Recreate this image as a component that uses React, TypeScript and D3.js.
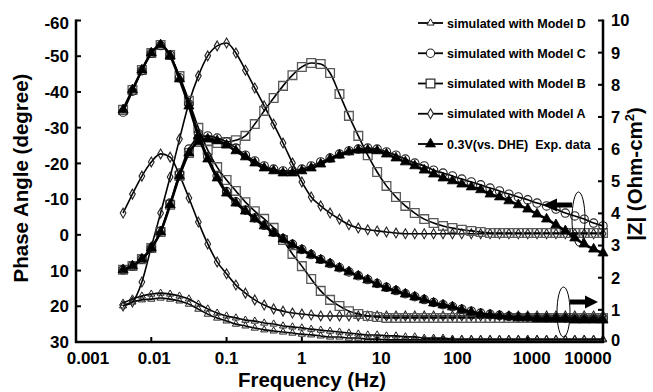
import React from 'react';
import * as d3 from 'd3';

// ---------- data ----------
const FREQ = [0.00422, 0.00562, 0.0075, 0.01, 0.0133, 0.0178, 0.0237, 0.0316, 0.0422, 0.0562, 0.075,
  0.1, 0.133, 0.178, 0.237, 0.316, 0.422, 0.562, 0.75,
  1, 1.33, 1.78, 2.37, 3.16, 4.22, 5.62, 7.5,
  10, 13.3, 17.8, 23.7, 31.6, 42.2, 56.2, 75,
  100, 133, 178, 237, 316, 422, 562, 750,
  1000, 1330, 1780, 2370, 3160, 4220, 5620, 7500, 10000];

// Experimental data, 0.3 V vs DHE
const EXP_PHASE = [9.8, 8.7, 6.8, 3.7, -0.8, -8.4, -16.5, -22.9, -26.0, -26.8,
  -26.3, -25.1, -23.5, -21.8, -20.1, -18.7, -17.9, -17.3, -17.3, -17.9,
  -18.7, -19.8, -21.2, -22.3, -23.2, -23.7, -23.7, -23.5, -22.6, -21.5,
  -20.4, -19.3, -18.1, -17.0, -15.9, -15.1, -14.2, -13.4, -12.6, -11.4,
  -10.6, -9.5, -8.4, -7.2, -5.8, -4.4, -2.8, -1.1, 0.9, 2.6, 4.0, 5.1];
const EXP_Z = [7.22, 7.84, 8.46, 8.99, 9.24, 8.90, 8.18, 7.34, 6.41, 5.69,
  5.10, 4.63, 4.32, 4.07, 3.83, 3.61, 3.39, 3.20, 3.02, 2.86,
  2.71, 2.55, 2.43, 2.30, 2.18, 2.05, 1.93, 1.80, 1.68, 1.59,
  1.49, 1.40, 1.31, 1.21, 1.15, 1.09, 1.00, 0.93, 0.87, 0.84,
  0.81, 0.78, 0.75, 0.75, 0.72, 0.72, 0.72, 0.72, 0.68, 0.68, 0.68, 0.68];

// Model C
const C_PHASE = [9.8, 8.7, 6.8, 3.7, -1.1, -8.9, -17.3, -24.0, -27.1, -27.7,
  -27.1, -26.0, -24.3, -22.3, -20.7, -19.3, -18.4, -17.9, -17.9, -18.4,
  -19.3, -20.4, -21.5, -22.6, -23.5, -24.0, -24.3, -24.0, -23.2, -22.3,
  -21.2, -20.1, -19.3, -18.1, -17.3, -16.5, -15.6, -14.8, -14.0, -13.1,
  -12.3, -11.4, -10.6, -9.8, -8.9, -8.1, -7.2, -6.1, -5.3, -4.4, -3.3, -2.5];
const C_Z = [7.15, 7.80, 8.44, 8.98, 9.22, 8.92, 8.22, 7.40, 6.48, 5.76,
  5.16, 4.68, 4.36, 4.10, 3.86, 3.63, 3.41, 3.22, 3.04, 2.88,
  2.72, 2.57, 2.44, 2.31, 2.18, 2.06, 1.94, 1.82, 1.70, 1.60,
  1.50, 1.41, 1.32, 1.23, 1.16, 1.10, 1.02, 0.96, 0.90, 0.86,
  0.83, 0.80, 0.78, 0.77, 0.76, 0.75, 0.75, 0.74, 0.74, 0.74, 0.74, 0.74];

// Model B
const B_PHASE = [9.8, 8.7, 6.8, 3.7, -0.8, -8.4, -16.5, -22.9, -26.0, -26.3,
  -25.7, -26.0, -26.5, -27.7, -31.0, -34.7, -38.3, -41.7, -44.7, -47.0,
  -48.1, -47.8, -45.3, -39.4, -33.3, -27.7, -22.3, -17.6, -13.7, -10.6,
  -8.1, -6.1, -4.4, -3.3, -2.5, -1.9, -1.4, -1.1, -0.8, -0.5,
  -0.5, -0.5, -0.5, -0.5, -0.5, -0.5, -0.5, -0.5, -0.5, -0.5, -0.5, -0.5];
const B_Z = [7.22, 7.84, 8.46, 8.99, 9.24, 8.93, 8.27, 7.50, 6.66, 5.97,
  5.44, 5.04, 4.70, 4.35, 4.07, 3.83, 3.55, 3.17, 2.74, 2.36,
  1.96, 1.59, 1.31, 1.12, 0.96, 0.87, 0.81, 0.78, 0.75, 0.75,
  0.75, 0.75, 0.75, 0.75, 0.75, 0.75, 0.75, 0.75, 0.75, 0.75,
  0.75, 0.75, 0.75, 0.75, 0.75, 0.75, 0.75, 0.75, 0.75, 0.75, 0.75, 0.75];

// Model A
const A_PHASE = [19.9, 18.8, 13.2, 3.4, -6.1, -16.2, -26.8, -36.9, -44.5, -50.1,
  -52.9, -53.7, -50.9, -46.1, -41.1, -36.1, -31.0, -25.7, -20.1, -14.8,
  -10.6, -8.1, -6.1, -4.4, -2.8, -1.9, -1.4, -1.1, -0.8, -0.5,
  -0.3, -0.3, -0.3, -0.3, -0.3, -0.3, -0.3, -0.3, -0.3, -0.3,
  -0.3, -0.3, -0.3, -0.3, -0.3, -0.3, -0.3, -0.3, -0.3, -0.3, -0.3, -0.3];
const A_Z = [4.01, 4.60, 5.16, 5.60, 5.85, 5.75, 5.19, 4.48, 3.73, 3.05,
  2.49, 2.12, 1.77, 1.52, 1.31, 1.15, 1.03, 0.96, 0.90, 0.87,
  0.84, 0.81, 0.81, 0.81, 0.81, 0.81, 0.81, 0.81, 0.81, 0.81,
  0.81, 0.81, 0.81, 0.81, 0.81, 0.81, 0.81, 0.81, 0.81, 0.81,
  0.81, 0.81, 0.81, 0.81, 0.81, 0.81, 0.81, 0.81, 0.81, 0.81, 0.81, 0.81];

// Model D
const D_PHASE = [19.9, 18.8, 18.2, 18.0, 17.7, 18.0, 18.5, 19.4, 20.8, 22.2,
  23.3, 24.1, 25.0, 25.5, 26.1, 26.6, 26.9, 27.2, 27.5, 27.8,
  28.0, 28.3, 28.6, 28.6, 28.9, 28.9, 29.2, 29.2, 29.4, 29.4,
  29.4, 29.4, 29.4, 29.4, 29.4, 29.4, 29.4, 29.4, 29.4, 29.4,
  29.4, 29.4, 29.4, 29.4, 29.4, 29.4, 29.4, 29.4, 29.4, 29.4, 29.4, 29.4];
const D_Z = [1.21, 1.34, 1.43, 1.49, 1.52, 1.49, 1.43, 1.34, 1.18, 1.03,
  0.90, 0.81, 0.75, 0.68, 0.65, 0.59, 0.56, 0.50, 0.47, 0.44,
  0.40, 0.37, 0.34, 0.31, 0.28, 0.25, 0.22, 0.22, 0.19, 0.19,
  0.16, 0.16, 0.12, 0.12, 0.12, 0.09, 0.09, 0.09, 0.09, 0.09,
  0.09, 0.09, 0.09, 0.09, 0.09, 0.09, 0.09, 0.09, 0.09, 0.09, 0.09, 0.09];

const LEFT_TICKS = [-60, -50, -40, -30, -20, -10, 0, 10, 20, 30];
const RIGHT_TICKS = [0, 1, 2, 3, 4, 5, 6, 7, 8, 9, 10];
const X_TICKS = [0.001, 0.01, 0.1, 1, 10, 100, 1000, 10000];
const X_TICK_LABELS = ['0.001', '0.01', '0.1', '1', '10', '100', '1000', '10000'];
const LEGEND_LABELS = ['simulated with Model D', 'simulated with Model C', 'simulated with Model B',
  'simulated with Model A', '0.3V(vs. DHE)  Exp. data'];

// ---------- layout ----------
const W = 653, H = 392;
const X0 = 76, X1 = 603, YT = 20.5, YB = 342;
const FONT = '"Liberation Sans", Arial, Helvetica, sans-serif';

type Marker = { type: d3.SymbolType; size: number; fill: string; stroke: string; sw: number };
const MK: Record<string, Marker> = {
  D: { type: d3.symbolTriangle, size: 22, fill: 'none', stroke: '#222', sw: 1 },
  C: { type: d3.symbolCircle, size: 55, fill: 'none', stroke: '#222', sw: 1.1 },
  B: { type: d3.symbolSquare, size: 76, fill: 'none', stroke: '#5a5a5a', sw: 1.3 },
  A: { type: d3.symbolDiamond, size: 28, fill: 'none', stroke: '#222', sw: 1.1 },
  E: { type: d3.symbolTriangle, size: 44, fill: '#000', stroke: '#000', sw: 0.8 },
};

export default function App() {
  const x = d3.scaleLog().domain([0.001, 10000]).range([X0, X1]);
  const yL = d3.scaleLinear().domain([-60, 30]).range([YT, YB]);
  const yR = d3.scaleLinear().domain([0, 10]).range([YB, YT]);

  const series = [
    { key: 'D', vals: D_PHASE, y: yL, lw: 1.6 },
    { key: 'D', vals: D_Z, y: yR, lw: 1.6 },
    { key: 'A', vals: A_Z, y: yR, lw: 1.6 },
    { key: 'A', vals: A_PHASE, y: yL, lw: 1.6 },
    { key: 'B', vals: B_Z, y: yR, lw: 1.6 },
    { key: 'B', vals: B_PHASE, y: yL, lw: 1.6 },
    { key: 'C', vals: C_Z, y: yR, lw: 1.6 },
    { key: 'C', vals: C_PHASE, y: yL, lw: 1.6 },
    { key: 'E', vals: EXP_Z, y: yR, lw: 2.6 },
    { key: 'E', vals: EXP_PHASE, y: yL, lw: 2.6 },
  ];

  const sym = (k: string) => d3.symbol().type(MK[k].type).size(MK[k].size)() as string;
  const legendKeys = ['D', 'C', 'B', 'A', 'E'];
  const xDx = [12, 3, 0, 0, 4, 5, 4, -15];

  return (
    <svg width={W} height={H} style={{ position: 'absolute', left: 0, top: 0, background: '#fff' }}
      fontFamily={FONT} fontWeight="bold">
      <rect width={W} height={H} fill="#fff" />
      {series.map((s, si) => {
        const line = d3.line<number>()
          .x((_, i) => x(FREQ[i]))
          .y((v) => s.y(v))
          .curve(d3.curveMonotoneX);
        const m = MK[s.key];
        const p = sym(s.key);
        return (
          <g key={si}>
            <path d={line(s.vals) as string} fill="none" stroke="#000" strokeWidth={s.lw} />
            {s.vals.map((v, i) => (
              <path key={i} d={p} transform={`translate(${x(FREQ[i])},${s.y(v)})`}
                fill={m.fill} stroke={m.stroke} strokeWidth={m.sw} />
            ))}
          </g>
        );
      })}

      {/* axes */}
      <g stroke="#000" strokeWidth={2.5} fill="none">
        <line x1={X0} y1={YT - 1} x2={X0} y2={YB + 1} />
        <line x1={X1} y1={YT - 1} x2={X1} y2={YB + 1} />
        <line x1={X0 - 1} y1={YB} x2={X1 + 1} y2={YB} />
      </g>
      {LEFT_TICKS.map((t) => (
        <g key={'l' + t}>
          <line x1={X0} x2={X0 + 5} y1={yL(t)} y2={yL(t)} stroke="#000" strokeWidth={2} />
          <text x={69} y={yL(t) + (t === -60 ? 2 : 0)} dy="0.36em" textAnchor="end" fontSize={17}>{t}</text>
        </g>
      ))}
      {RIGHT_TICKS.map((t) => (
        <g key={'r' + t}>
          <line x1={X1 - 5} x2={X1} y1={yR(t)} y2={yR(t)} stroke="#000" strokeWidth={2} />
          <text x={611} y={yR(t) - (t === 0 ? 2 : 0)} dy="0.36em" textAnchor="start" fontSize={16.5}>{t}</text>
        </g>
      ))}
      {X_TICKS.map((t, i) => (
        <g key={'x' + t}>
          <line x1={x(t)} x2={x(t)} y1={YB} y2={YB - 5} stroke="#000" strokeWidth={2} />
          <text x={x(t) + xDx[i]} y={364} textAnchor="middle" fontSize={17}>{X_TICK_LABELS[i]}</text>
        </g>
      ))}

      {/* axis titles */}
      <text x={312} y={387} textAnchor="middle" fontSize={20.5}>Frequency (Hz)</text>
      <text transform="translate(28,178) rotate(-90)" textAnchor="middle" fontSize={20.5}>Phase Angle (degree)</text>
      <text transform="translate(642,174) rotate(-90)" textAnchor="middle" fontSize={20.5}>
        |Z| (Ohm-cm<tspan dy="-8" fontSize={13}>2</tspan><tspan dy="8">)</tspan>
      </text>

      {/* legend */}
      {legendKeys.map((k, i) => {
        const ly = 23 + i * 30.25;
        const m = MK[k];
        return (
          <g key={'lg' + k}>
            <line x1={418} x2={443} y1={ly} y2={ly} stroke="#000" strokeWidth={1.8} />
            <path d={sym(k)} transform={`translate(430.5,${ly})`} fill={m.fill === 'none' ? '#fff' : m.fill}
              stroke={k === 'B' ? '#333' : m.stroke} strokeWidth={m.sw} />
            <text x={447} y={ly + 4.5} fontSize={12.5} style={{ whiteSpace: 'pre' }}>{LEGEND_LABELS[i]}</text>
          </g>
        );
      })}

      {/* annotations: ellipses and arrows */}
      <ellipse cx={578.5} cy={219} rx={6.5} ry={27} fill="none" stroke="#000" strokeWidth={1} />
      <line x1={556} x2={572} y1={205} y2={205} stroke="#000" strokeWidth={5} />
      <path d="M543,205 L557,198.5 L557,211.5 Z" fill="#000" />
      <ellipse cx={563.5} cy={312} rx={6.5} ry={25} fill="none" stroke="#000" strokeWidth={1} />
      <line x1={570} x2={586} y1={302} y2={302} stroke="#000" strokeWidth={5} />
      <path d="M598,302 L585,295.5 L585,308.5 Z" fill="#000" />
    </svg>
  );
}
